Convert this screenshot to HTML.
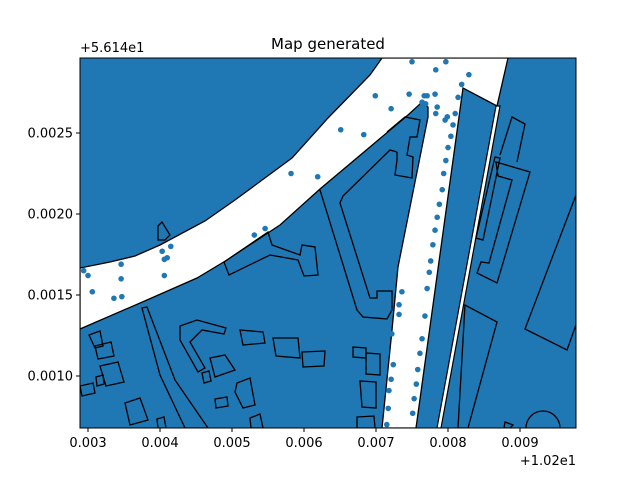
<!DOCTYPE html>
<html><head><meta charset="utf-8"><style>
body{margin:0;background:#fff;font-family:"Liberation Sans","DejaVu Sans",sans-serif}
svg text{font-family:"DejaVu Sans","Liberation Sans",sans-serif;font-size:13px;fill:#000}
</style></head><body>
<svg id="chart" width="640" height="480" viewBox="0 0 640 480">
<defs><clipPath id="clip"><rect x="80" y="58" width="496" height="370"/></clipPath></defs>
<text x="328" y="49" text-anchor="middle" style="font-size:15px">Map generated</text>
<g clip-path="url(#clip)">
<rect x="80" y="58" width="496" height="370" fill="#1f77b4"/>
<polygon fill="#fff" stroke="#000" stroke-width="1.3" points="80,268 110,262 135,256 160,245 205,221 235,200 292,158 328,118 370,75 382,58 508,58 497,106 463,88 416,428 382,428 392,330 398,267 428,117 428,107 421,103 408,115 320,189 280,225 245,248 227,260 197,278 147,300 80,329"/>
<polygon fill="#fff" stroke="#000" stroke-width="1.2" points="496,106 500,106 441,428 437,428"/>
<g fill="none" stroke="#000" stroke-width="1.3">
<polyline points="320,190 357,310 363,317 387,319 392,310 392,291 377,291 377,298 370,298 340,203 343,196 390,150 397,152"/>
<polyline points="387,132 405,117 420,120 417,137 410,137 407,155 413,157 412,178 395,175 397,160 397,152"/>
<polygon points="224,262 268,232 272,245 300,255 302,245 315,247 318,275 304,276 298,260 270,255 229,275"/>
<polygon points="158,226 162,222 170,235 165,240 158,240"/>
<polygon points="142,308 147,307 175,380 208,428 185,428 160,375"/>
<polygon points="89,335 100,331 103,346 95,348"/>
<polygon points="95,346 111,342 114,356 98,359"/>
<polygon points="100,366 118,362 124,382 106,386"/>
<polygon points="96,377 103,375 104,384 97,386"/>
<polygon points="80,386 93,383 95,393 82,396"/>
<polygon points="180,326 197,320 226,328 224,334 202,330 190,342 205,368 198,372 180,340"/>
<polygon points="240,330 263,332 265,343 243,345"/>
<polygon points="273,338 298,338 300,358 276,356"/>
<polygon points="302,352 325,351 324,366 303,367"/>
<polygon points="210,358 225,355 235,370 215,377"/>
<polygon points="202,373 209,371 211,381 204,383"/>
<polygon points="237,383 250,378 255,405 243,408 235,392"/>
<polygon points="215,399 227,397 228,406 216,408"/>
<polygon points="125,403 140,398 148,420 130,425"/>
<polygon points="157,419 164,417 166,428 158,428"/>
<polygon points="250,418 260,414 263,428 251,428"/>
<polygon points="353,347 366,348 366,358 353,357"/>
<polygon points="366,353 380,354 380,375 366,374"/>
<polygon points="360,381 376,382 376,408 362,407"/>
<polygon points="357,417 374,416 375,428 357,428"/>
<polygon points="458,428 465,305 497,322 468,428"/>
<polygon points="576,195 525,329 567,350 576,325"/>
<polyline points="500,155 512,117 525,124 517,162"/>
<polygon points="495,157 500,158 483,240 476,238"/>
<polygon points="496,162 530,172 497,283 477,273 481,262 489,263 512,180 498,176"/>
<circle cx="543" cy="428" r="17"/>
<polygon points="505,422 513,425 510,428 504,428"/>
</g>
<g id="points"></g>
</g>
<rect x="80" y="58" width="496" height="370" fill="none" stroke="#000" stroke-width="1"/>
<g id="xaxis"></g>
<g id="yaxis"></g>
<text x="80" y="52">+5.614e1</text>
<text x="576" y="465" text-anchor="end">+1.02e1</text>
</svg>
<script>
const xTicks=[0.003,0.004,0.005,0.006,0.007,0.008,0.009];
const xTickLabels=["0.003","0.004","0.005","0.006","0.007","0.008","0.009"];
const yTicks=[0.0010,0.0015,0.0020,0.0025];
const yTickLabels=["0.0010","0.0015","0.0020","0.0025"];
const pointX=[0.00750,0.00797,0.00783,0.00829,0.00819,0.00699,0.00746,0.00767,0.00771,0.00782,0.00814,0.00764,0.00769,0.00785,0.00721,0.00783,0.00810,0.00799,0.00796,0.00807,0.00651,0.00683,0.00804,0.00800,0.00797,0.00794,0.00792,0.00788,0.00785,0.00782,0.00779,0.00582,0.00619,0.00531,0.00546,0.00415,0.00294,0.00300,0.00346,0.00346,0.00306,0.00336,0.00347,0.00403,0.00410,0.00406,0.00406,0.00736,0.00732,0.00732,0.00722,0.00724,0.00721,0.00718,0.00717,0.00715,0.00776,0.00774,0.00771,0.00768,0.00764,0.00761,0.00758,0.00756,0.00753,0.00751];
const pointY=[0.00294,0.00294,0.00289,0.00286,0.00280,0.00273,0.00274,0.00273,0.00273,0.00274,0.00272,0.00269,0.00268,0.00266,0.00265,0.00262,0.00262,0.00260,0.00258,0.00255,0.00252,0.00249,0.00248,0.00241,0.00233,0.00225,0.00215,0.00206,0.00198,0.00190,0.00181,0.00225,0.00223,0.00187,0.00191,0.00180,0.00165,0.00162,0.00169,0.00160,0.00152,0.00148,0.00149,0.00177,0.00173,0.00172,0.00162,0.00152,0.00144,0.00138,0.00126,0.00107,0.00098,0.00091,0.00080,0.00070,0.00171,0.00164,0.00154,0.00137,0.00123,0.00114,0.00104,0.00095,0.00086,0.00077];
const NS="http://www.w3.org/2000/svg";
function sx(v){return 88+(v-0.003)*72000;}
function sy(v){return 133-(v-0.0025)*162000;}
const pg=document.getElementById('points');
for(let i=0;i<pointX.length;i++){
  const c=document.createElementNS(NS,'circle');
  c.setAttribute('cx',sx(pointX[i]));c.setAttribute('cy',sy(pointY[i]));
  c.setAttribute('r',2.8);c.setAttribute('fill','#1f77b4');
  
  
  pg.appendChild(c);
}
const xa=document.getElementById('xaxis');
xTicks.forEach((t,i)=>{
  const x=sx(t);
  const l=document.createElementNS(NS,'line');
  l.setAttribute('x1',x);l.setAttribute('x2',x);l.setAttribute('y1',428);l.setAttribute('y2',432);l.setAttribute('stroke','#000');
  
  
  xa.appendChild(l);
  const tx=document.createElementNS(NS,'text');
  tx.setAttribute('x',x);tx.setAttribute('y',447);tx.setAttribute('text-anchor','middle');tx.textContent=xTickLabels[i];
  
  
  xa.appendChild(tx);
});
const ya=document.getElementById('yaxis');
yTicks.forEach((t,i)=>{
  const y=sy(t);
  const l=document.createElementNS(NS,'line');
  l.setAttribute('x1',76);l.setAttribute('x2',80);l.setAttribute('y1',y);l.setAttribute('y2',y);l.setAttribute('stroke','#000');
  
  
  ya.appendChild(l);
  const tx=document.createElementNS(NS,'text');
  tx.setAttribute('x',73);tx.setAttribute('y',y+4.5);tx.setAttribute('text-anchor','end');tx.textContent=yTickLabels[i];
  
  
  ya.appendChild(tx);
});
</script>
</body></html>
